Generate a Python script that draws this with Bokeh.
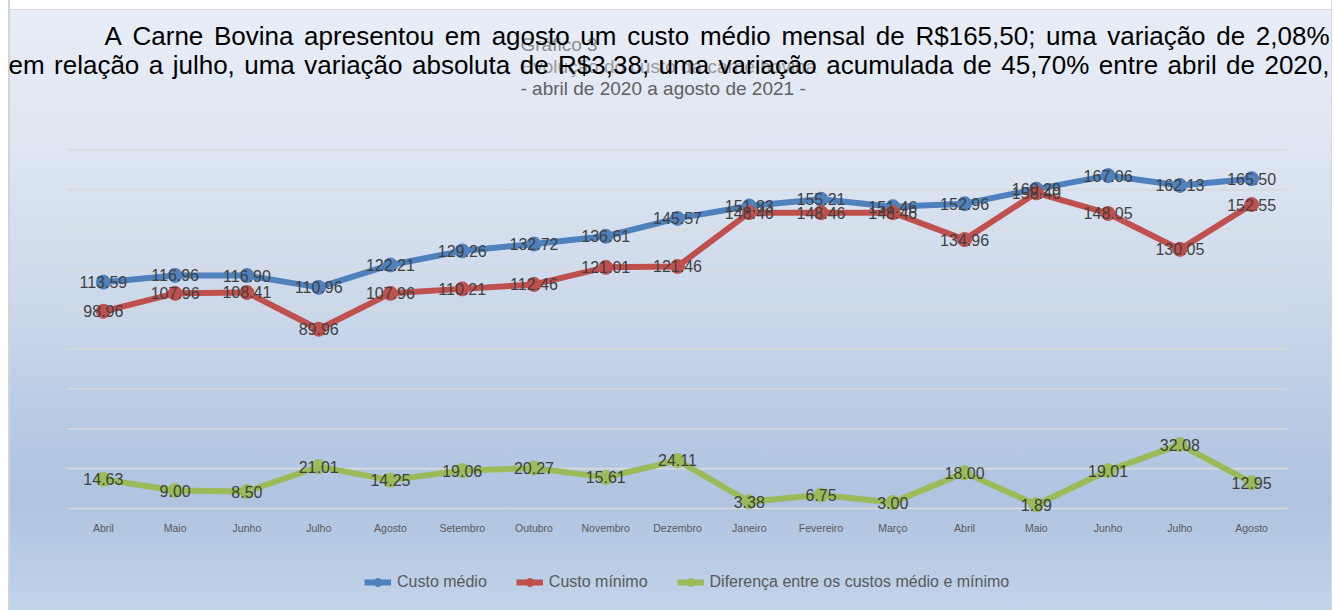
from bokeh.plotting import figure
from bokeh.models import Range1d, Label, Legend, LegendItem, ColumnDataSource
from bokeh.core.properties import value
from bokeh.embed import file_html
from bokeh.resources import INLINE

# ---------------- data ----------------
months = ["Abril", "Maio", "Junho", "Julho", "Agosto", "Setembro", "Outubro", "Novembro",
          "Dezembro", "Janeiro", "Fevereiro", "Março", "Abril", "Maio", "Junho", "Julho", "Agosto"]
custo_medio = [113.59, 116.96, 116.90, 110.96, 122.21, 129.26, 132.72, 136.61, 145.57,
               151.83, 155.21, 151.46, 152.96, 160.29, 167.06, 162.13, 165.50]
custo_minimo = [98.96, 107.96, 108.41, 89.96, 107.96, 110.21, 112.46, 121.01, 121.46,
                148.46, 148.46, 148.46, 134.96, 158.40, 148.05, 130.05, 152.55]
diferenca = [14.63, 9.00, 8.50, 21.01, 14.25, 19.06, 20.27, 15.61, 24.11,
             3.38, 6.75, 3.00, 18.00, 1.89, 19.01, 32.08, 12.95]
series_names = ["Custo médio", "Custo mínimo", "Diferença entre os custos médio e mínimo"]
grid_ticks = [0, 20, 40, 60, 80, 100, 120, 140, 160, 180]

paragraph_lines = [
    "A Carne Bovina apresentou em agosto um custo médio mensal de R$165,50; uma variação de 2,08%",
    "em relação a julho, uma variação absoluta de R$3,38; uma variação acumulada de 45,70% entre abril de 2020,",
]
title_lines = ["Gráfico 3", "Evolução do custo da carne bovina", "- abril de 2020 a agosto de 2021 -"]

# ---------------- layout constants (px) ----------------
W, H = 1334, 610
PLOT_L, PLOT_R, PLOT_T, PLOT_B = 67.0, 1287.0, 149.3, 508.0   # plot area in canvas px
Y_MAX = 180.0
FONT = "Liberation Sans"

n = len(months)
x_unit = (PLOT_R - PLOT_L) / n
y_unit = (PLOT_B - PLOT_T) / Y_MAX
x_start = -0.5 - PLOT_L / x_unit
x_end = (n - 0.5) + (W - PLOT_R) / x_unit
y_start = -(H - PLOT_B) / y_unit
y_end = Y_MAX + PLOT_T / y_unit

# Arial / Liberation Sans advance widths (1/1000 em) for justification
ADV = {' ': 278, 'A': 667, 'B': 667, 'C': 722, 'R': 722, 'a': 556, 'b': 556, 'c': 500, 'd': 556,
       'e': 556, 'g': 556, 'h': 556, 'i': 222, 'j': 222, 'l': 222, 'm': 833, 'n': 556, 'o': 556,
       'p': 556, 'r': 333, 's': 500, 't': 278, 'u': 556, 'v': 500, 'ç': 500, 'ã': 556, 'é': 556,
       '$': 556, ',': 278, ';': 278, '%': 889}
for d in "0123456789":
    ADV[d] = 556


def word_width(w, size):
    return sum(ADV.get(ch, 556) for ch in w) / 1000.0 * size


borders = ("linear-gradient(to right, #ffffff 0px, #ffffff 8px, #d4d4d4 8px, #d4d4d4 10px, "
           "rgba(255,255,255,0) 10px, rgba(255,255,255,0) 1331px, #d9d9d9 1331px, #d9d9d9 1332px, "
           "#ffffff 1332px)")
vertical = ("linear-gradient(to bottom, #ffffff 0px, #ffffff 9px, #d9d9d9 9px, #d9d9d9 10px, "
            "#e8eef7 10px, #dde6f2 150px, #ccd9eb 300px, #b6cae4 430px, #aec4e0 500px, "
            "#b4c9e3 540px, #c2d4ea 610px)")

p = figure(width=W, height=H, output_backend="svg", toolbar_location=None, tools="",
           x_range=Range1d(x_start, x_end), y_range=Range1d(y_start, y_end),
           x_axis_location=None, y_axis_location=None,
           min_border=0, min_border_left=0, min_border_right=0, min_border_top=0, min_border_bottom=0,
           background_fill_alpha=0, border_fill_alpha=0, outline_line_color=None,
           styles={"background": borders + ", " + vertical})
p.grid.visible = False

# horizontal gridlines across the category span
p.segment(x0=[-0.5] * len(grid_ticks), x1=[n - 0.5] * len(grid_ticks), y0=grid_ticks, y1=grid_ticks,
          line_color="#d9d9d9", line_width=1.6)

# category labels
p.text(x=list(range(n)), y=[0] * n, text=months, y_offset=19, text_align="center",
       text_baseline="middle", text_font=value(FONT), text_font_size="10.5px", text_color="#595959")

colors = ["#4f81bd", "#c0504d", "#9bbb59"]
items = []
sources = []
for name, vals, c in zip(series_names, [custo_medio, custo_minimo, diferenca], colors):
    src = ColumnDataSource(dict(x=list(range(len(vals))), y=vals, lbl=[f"{v:.2f}" for v in vals]))
    sources.append(src)
    ln = p.line("x", "y", source=src, line_width=6, line_color=c, line_join="round")
    sc = p.scatter("x", "y", source=src, size=14, fill_color=c, line_color=c)
    items.append(LegendItem(label=name, renderers=[ln, sc]))

for src in sources:
    p.text("x", "y", text="lbl", source=src, text_align="center", text_baseline="middle",
           text_font=value(FONT), text_font_size="16px", text_color="#404040")

legend = Legend(items=items, orientation="horizontal", location=(364, H - 592),
                glyph_width=27, glyph_height=20, label_height=20, label_standoff=6, spacing=29,
                padding=0, margin=0, border_line_color=None, background_fill_alpha=0,
                label_text_font=FONT, label_text_font_size="16px", label_text_color="#595959")
p.add_layout(legend)


def add_label(text, px, py, size, color):
    p.add_layout(Label(x=px, y=H - py, x_units="screen", y_units="screen",
                       text=text, text_font=FONT, text_font_size=f"{size}px", text_color=color,
                       text_align="left", text_baseline="alphabetic"))


# chart title (behind paragraph)
title_colors = ["#8c8c8c", "#9a9a9a", "#5f5f5f"]
for i, (t, col) in enumerate(zip(title_lines, title_colors)):
    add_label(t, 520, 44 + 22 * i, 19, col)

# justified overlay paragraph
para_size = 26
starts = [104, 8]
right_edge = 1329
baselines = [35, 64]
for line, x0, yb in zip(paragraph_lines, starts, baselines):
    words = line.split(" ")
    widths = [word_width(w, para_size) for w in words]
    gap = (right_edge - x0 - sum(widths)) / (len(words) - 1)
    x = x0
    for w, wd in zip(words, widths):
        add_label(w, x, yb, para_size, "#000000")
        x += wd + gap

open("out.html", "w").write(file_html(p, INLINE))
